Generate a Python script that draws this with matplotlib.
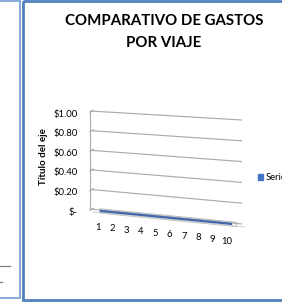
import matplotlib
matplotlib.use("Agg")
import matplotlib.pyplot as plt
import numpy as np
from matplotlib.patches import Rectangle, Polygon, Patch

plt.rcParams['font.family'] = ['Lato', 'DejaVu Sans']

# ---- data ----
categories = [1, 2, 3, 4, 5, 6, 7, 8, 9, 10]
series_name = "Series1"
series_values = [0, 0, 0, 0, 0, 0, 0, 0, 0, 0]
y_ticks = [0.0, 0.2, 0.4, 0.6, 0.8, 1.0]
y_tick_labels = ["$-", "$0.20", "$0.40", "$0.60", "$0.80", "$1.00"]
title_lines = ["COMPARATIVO DE GASTOS", "POR VIAJE"]
y_label = "Título del eje"

W, H = 282, 303
fig = plt.figure(figsize=(W / 100, H / 100), dpi=100)

# overlay in pixel coordinates for chart frame decorations
deco = fig.add_axes([0, 0, 1, 1], zorder=0)
deco.set_xlim(0, W)
deco.set_ylim(H, 0)
deco.axis('off')
blue = '#4F81BD'
# left neighbouring chart remnant
deco.add_patch(Rectangle((-5, 0.8), 25, 297, fill=False, ec='#7FA3D6', lw=1.3))
deco.plot([0, 10], [266, 266], color='#808080', lw=0.9)
deco.plot([0, 1.5], [282, 282], color='#808080', lw=0.9)
# main chart frame
deco.add_patch(Rectangle((22.5, 1.0), 300, 299, fill=False, ec=blue, lw=2.0))

# ---- main plot axes (x: category, y: value at the left wall) ----
px_left, px_right = 90, 242
px_per_val = 98.0
ylo, yhi = -0.6, 1.15
zero_px = 209
bot_px = zero_px - ylo * px_per_val
top_px = zero_px - yhi * px_per_val
ax = fig.add_axes([px_left / W, (H - bot_px) / H, (px_right - px_left) / W, (bot_px - top_px) / H], zorder=1)
ax.set_xlim(0.5, len(categories) + 0.5)
ax.set_ylim(ylo, yhi)
ax.axis('off')
ax.patch.set_alpha(0)

n = len(categories)
px_per_cat = (px_right - px_left) / n


def proj(x, v):
    """pseudo-3D perspective of the back wall"""
    x = np.asarray(x, float)
    v = np.asarray(v, float)
    u = (x - 0.5) / n
    return x, v * (1 + 0.061 * u) - 0.153 * u


grid_c = '#ABABAB'
xs = np.array([0.5, n + 0.5])
for v in y_ticks:
    gx, gy = proj(xs, [v, v])
    ax.plot(gx, gy, color=grid_c, lw=0.85, solid_capstyle='butt', clip_on=False)
    # side wall short segment
    ax.plot([0.5, 0.72], [v - 0.012, v + 0.008], color=grid_c, lw=0.85, clip_on=False)
# vertical axis line
vx, vy = proj([0.5, 0.5], [y_ticks[0], y_ticks[-1]])
ax.plot(vx, vy, color=grid_c, lw=0.85, clip_on=False)

# floor front edge
fx, fy = proj(xs, [0, 0])
ax.plot(fx + 0.15, fy - 0.03, color='#D0D0D0', lw=0.7, clip_on=False)

# series ribbon (3D line with zero values)
cx, cy = proj(np.array(categories, float), np.array(series_values, float))
dx, dy = 0.15, -0.012
rx, ry = cx + dx, cy + dy
th = 0.022
poly = np.vstack([np.column_stack([rx, ry + th]), np.column_stack([rx[::-1], ry[::-1] - th])])
ax.add_patch(Polygon(poly, closed=True, fc='#F2F5FA', ec='#B8BCC4', lw=0.7, clip_on=False))
ax.plot(rx[:-1].tolist() + [rx[-1] - 0.3], ry[:-1].tolist() + [ry[-1] + 0.004],
        color='#4268AC', lw=1.6, solid_capstyle='butt', clip_on=False)

# y tick labels
for v, lab in zip(y_ticks, y_tick_labels):
    ax.text(0.5 - 12.5 / px_per_cat, v - 3 / px_per_val, lab, ha='right', va='center',
            fontsize=6.8, color='#000000', clip_on=False)

# x tick labels along front edge
for i, c in enumerate(categories):
    lx = 98 + i * 14.33
    ly = 227 + i * 1.56
    ax.text((lx - px_left) / px_per_cat + 0.5, (zero_px - ly) / px_per_val, str(c), ha='center', va='center',
            fontsize=6.8, color='#000000', clip_on=False)

# axis title
fig.text(43.5 / W, 1 - 157 / H, y_label, rotation=90, ha='center', va='center',
         fontsize=7.0, fontweight='bold', color='#000000')

# chart title
fig.text(164 / W, 1 - 21 / H, title_lines[0], ha='center', va='center',
         fontsize=10.8, fontweight='bold', color='#000000')
fig.text(164 / W, 1 - 43 / H, title_lines[1], ha='center', va='center',
         fontsize=10.8, fontweight='bold', color='#000000')

# legend
handle = Patch(facecolor='#4472C4', edgecolor='#4472C4')
fig.legend(handles=[handle], labels=[series_name], loc='center left',
           bbox_to_anchor=(258 / W, 1 - 178 / H), frameon=False, fontsize=6.8,
           handlelength=0.5, handleheight=0.5, handletextpad=0.3, borderpad=0, borderaxespad=0)

fig.savefig('out.png', dpi=100)
